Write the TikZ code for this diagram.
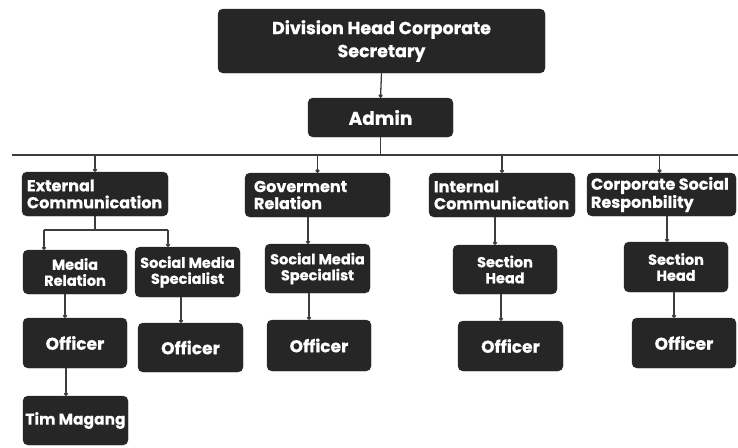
\documentclass[tikz,border=0pt]{standalone}
\usepackage{fontspec}
\setmainfont{Poppins}[BoldFeatures={FakeBold=0.6}]
\usetikzlibrary{arrows.meta}
\definecolor{boxfill}{HTML}{262626}
\definecolor{linecol}{HTML}{3C3C3C}
\begin{document}
\begin{tikzpicture}[x=1pt,y=1pt,
  box/.style={draw=boxfill, fill=boxfill, rounded corners=5pt, text=white, inner sep=0pt,
     font=\bfseries\fontsize{14.5}{16}\selectfont, align=center},
  headbox/.style={box, font=\bfseries\fontsize{16}{17}\selectfont, align=left},
  offbox/.style={box, font=\bfseries\fontsize{17}{19}\selectfont},
  conn/.style={draw=linecol, line width=1.3pt},
  dotted end/.style={conn, -{Circle[length=4pt, width=4pt]}}
]
\useasboundingbox (0,0) rectangle (738,-447);
% nodes
\node[box, minimum width=327, minimum height=64, font=\bfseries\fontsize{17.5}{23}\selectfont] (top) at (381.5,-41) {Division Head Corporate\\Secretary};
\node[box, minimum width=145, minimum height=39, font=\bfseries\fontsize{18.5}{20}\selectfont] (admin) at (380.5,-117.5) {Admin};
\node[headbox, minimum width=146, minimum height=44] (ext) at (95,-194) {\makebox[136pt][l]{External}\\\makebox[136pt][l]{Communication}};
\node[headbox, minimum width=145, minimum height=44] (gov) at (317.5,-195) {\makebox[127pt][l]{Goverment}\\\makebox[127pt][l]{Relation}};
\node[headbox, minimum width=146, minimum height=44] (int) at (502,-195) {\makebox[136pt][l]{Internal}\\\makebox[136pt][l]{Communication}};
\node[headbox, minimum width=149, minimum height=43] (csr) at (661.5,-194.5) {\makebox[141pt][l]{Corporate Social}\\\makebox[141pt][l]{Responbility}};
\node[box, minimum width=104, minimum height=44] (mr) at (75,-272) {Media\\Relation};
\node[box, minimum width=105, minimum height=50] (smsa) at (187.5,-272) {Social Media\\Specialist};
\node[offbox, minimum width=104, minimum height=50] (offa) at (75,-343) {Officer};
\node[offbox, minimum width=105, minimum height=49] (offb) at (190.5,-347.5) {Officer};
\node[box, minimum width=105, minimum height=49, font=\bfseries\fontsize{15.5}{17}\selectfont] (tim) at (75.5,-420.5) {Tim Magang};
\node[box, minimum width=105, minimum height=49] (smsb) at (317.5,-268.5) {Social Media\\Specialist};
\node[offbox, minimum width=104, minimum height=51] (offc) at (319,-345.5) {Officer};
\node[box, minimum width=104, minimum height=49] (sha) at (505,-269.5) {Section\\Head};
\node[offbox, minimum width=105, minimum height=50] (offd) at (510.5,-346) {Officer};
\node[box, minimum width=104, minimum height=50] (shb) at (676,-267) {Section\\Head};
\node[offbox, minimum width=104, minimum height=50] (offe) at (684,-343) {Officer};
% bus
\coordinate (busL) at (12,-155);
\coordinate (busR) at (738,-155);
\coordinate (extbus) at (95,-230);
\coordinate (extL) at (44,-230);
\coordinate (extR) at (168,-230);
\draw[conn] (busL) -- (busR);
\draw[dotted end] (top.south) -- (admin.north);
\draw[conn] (admin.south) -- (admin.south |- busL);
\draw[dotted end] (ext.north |- busL) -- (ext.north);
\draw[dotted end] (gov.north |- busL) -- (gov.north);
\draw[dotted end] (int.north |- busL) -- (int.north);
\draw[dotted end] ([xshift=-2pt]csr.north |- busL) -- ([xshift=-2pt]csr.north);
% external sub
\draw[conn] (ext.south) -- (extbus);
\draw[conn] (extL) -- (extR);
\draw[dotted end] (extL) -- (extL |- mr.north);
\draw[dotted end] (extR) -- (extR |- smsa.north);
\draw[dotted end] ([xshift=-10pt]mr.south) -- ([xshift=-10pt]mr.south |- offa.north);
\draw[dotted end] ([xshift=-9pt]offa.south) -- ([xshift=-9pt]offa.south |- tim.north);
\draw[dotted end] ([xshift=-6.5pt]smsa.south) -- ([xshift=-6.5pt]smsa.south |- offb.north);
% gov
\draw[dotted end] ([xshift=-9.5pt]gov.south) -- ([xshift=-9.5pt]gov.south |- smsb.north);
\draw[dotted end] ([xshift=-8.5pt]smsb.south) -- ([xshift=-8.5pt]smsb.south |- offc.north);
% int
\draw[dotted end] ([xshift=-7pt]int.south) -- ([xshift=-7pt]int.south |- sha.north);
\draw[dotted end] ([xshift=-4pt]sha.south) -- ([xshift=-4pt]sha.south |- offd.north);
% csr
\draw[dotted end] ([xshift=5.5pt]csr.south) -- ([xshift=5.5pt]csr.south |- shb.north);
\draw[dotted end] ([xshift=-2pt]shb.south) -- ([xshift=-2pt]shb.south |- offe.north);
\end{tikzpicture}
\end{document}
